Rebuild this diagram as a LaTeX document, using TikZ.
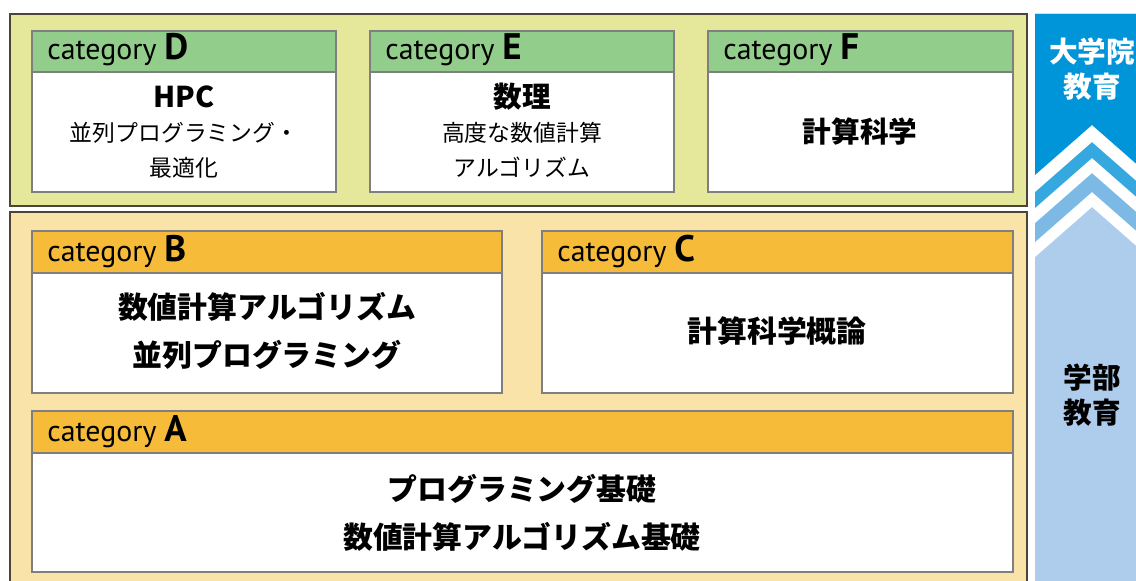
\documentclass[tikz,border=0pt]{standalone}
\usepackage{fontspec}
\usepackage{tikz}
\newfontfamily\jpfont{Noto Sans CJK JP}
\newfontfamily\latfont{PT Sans}

\definecolor{frame}{HTML}{4D4438}
\definecolor{edge}{HTML}{7F7F7F}
\definecolor{gradbg}{HTML}{E5E89A}
\definecolor{greenhead}{HTML}{93CD8B}
\definecolor{underbg}{HTML}{FAE3A8}
\definecolor{orangehead}{HTML}{F6BB39}
\definecolor{darkblue}{HTML}{0094D8}
\definecolor{midblue}{HTML}{35A8E0}
\definecolor{lightblue}{HTML}{7DB9E5}
\definecolor{paleblue}{HTML}{AECDEC}

\newcommand{\catletter}[1]{{\fontsize{21}{21}\selectfont\bfseries #1}}

\tikzset{
  outerbox/.style={draw=frame, line width=1.1pt},
  catbox/.style={draw=edge, line width=0.9pt},
  cattext/.style={anchor=base west, inner sep=0pt, font=\latfont\fontsize{17}{18}\selectfont},
  bigtext/.style={align=center, font=\jpfont\bfseries\fontsize{17}{27}\selectfont},
  smalltext/.style={align=center, font=\jpfont\fontsize{13}{19.8}\selectfont},
  sidetext/.style={align=center, font=\jpfont\bfseries\fontsize{16.3}{19.5}\selectfont},
}

\begin{document}
\begin{tikzpicture}[x=0.02cm, y=-0.02cm]
          \useasboundingbox (0,0) rectangle (1136,581);
          % graduate frame
          \draw[outerbox, fill=gradbg] (10,14) rectangle (1027,206);
          % undergraduate frame
          \draw[outerbox, fill=underbg] (10,212) rectangle (1027,590);
          % category D
          \draw[catbox, fill=greenhead] (32,31) rectangle (336,72);
          \draw[catbox, fill=white] (32,72) rectangle (336,192);
          \node[cattext] (catD) at (47,60) {category \catletter{D}};
          \node[sidetext] (hpc) at (184,97) {HPC};
          \node[smalltext] (hpcsub) at (184,150) {並列プログラミング・\\最適化};
          % category E
          \draw[catbox, fill=greenhead] (370,31) rectangle (674,72);
          \draw[catbox, fill=white] (370,72) rectangle (674,192);
          \node[cattext] (catE) at (385,60) {category \catletter{E}};
          \node[sidetext] (suri) at (522,97) {数理};
          \node[smalltext] (surisub) at (522,150) {高度な数値計算\\アルゴリズム};
          % category F
          \draw[catbox, fill=greenhead] (708,31) rectangle (1013,72);
          \draw[catbox, fill=white] (708,72) rectangle (1013,192);
          \node[cattext] (catF) at (723,60) {category \catletter{F}};
          \node[sidetext] (compsci) at (860,131) {計算科学};
          % category B
          \draw[catbox, fill=orangehead] (32,231) rectangle (502,273);
          \draw[catbox, fill=white] (32,273) rectangle (502,393);
          \node[cattext] (catB) at (47,261) {category \catletter{B}};
          \node[bigtext] (algo) at (267,331) {数値計算アルゴリズム\\並列プログラミング};
          % category C
          \draw[catbox, fill=orangehead] (542,231) rectangle (1013,273);
          \draw[catbox, fill=white] (542,273) rectangle (1013,393);
          \node[cattext] (catC) at (557,261) {category \catletter{C}};
          \node[bigtext] (intro) at (777,331) {計算科学概論};
          % category A
          \draw[catbox, fill=orangehead] (32,411) rectangle (1013,453);
          \draw[catbox, fill=white] (32,453) rectangle (1013,572);
          \node[cattext] (catA) at (47,441) {category \catletter{A}};
          \node[bigtext] (basics) at (522,513) {プログラミング基礎\\数値計算アルゴリズム基礎};
          % side column
          \begin{scope}
            \clip (1035,14) rectangle (1136,581);
            \fill[paleblue] (1035,14) rectangle (1149,581);
            \fill[white] (1035,14) -- (1149,14) -- (1149,257) -- (1092,207) -- (1035,257) -- cycle;
            \fill[lightblue] (1035,14) -- (1149,14) -- (1149,242) -- (1092,192) -- (1035,242) -- cycle;
            \fill[white] (1035,14) -- (1149,14) -- (1149,223) -- (1092,173) -- (1035,223) -- cycle;
            \fill[midblue] (1035,14) -- (1149,14) -- (1149,208) -- (1092,158) -- (1035,208) -- cycle;
            \fill[white] (1035,14) -- (1149,14) -- (1149,192) -- (1092,142) -- (1035,192) -- cycle;
            \fill[darkblue] (1035,14) -- (1149,14) -- (1149,175) -- (1092,125) -- (1035,175) -- cycle;
          \end{scope}
          \node[sidetext, white] (grad) at (1092,69) {大学院\\教育};
          \node[sidetext] (under) at (1092,395) {学部\\教育};
        \end{tikzpicture}
\end{document}
